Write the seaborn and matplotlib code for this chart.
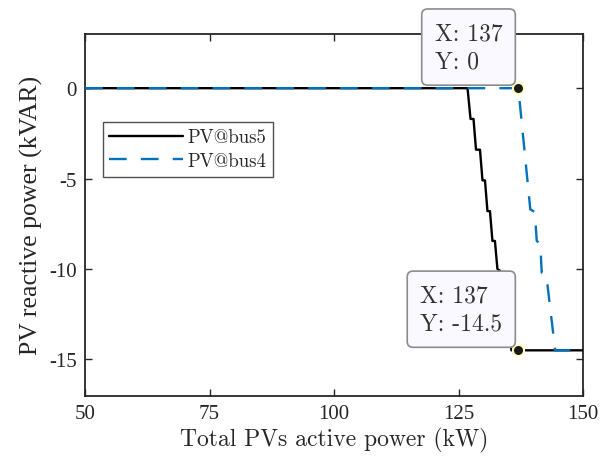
import matplotlib
matplotlib.use("Agg")
import matplotlib.pyplot as plt
from matplotlib.lines import Line2D
import seaborn as sns
import pandas as pd

# PV reactive power response vs total PV active power
bus5_p = [50, 126.8, 127.4, 128.0, 128.5, 129.3, 129.8, 130.3, 130.8, 131.3,
          131.8, 132.3, 132.8, 133.3, 133.8, 134.3, 134.8, 135.3, 135.6, 150]
bus5_q = [0, 0, -1.7, -1.7, -3.4, -3.4, -5.1, -5.1, -6.8, -6.8,
          -8.45, -8.45, -10.0, -10.1, -11.8, -11.8, -13.5, -13.5, -14.5, -14.5]

bus4_p = [50, 137, 139.4, 140.3, 140.7, 141.4, 141.7, 142.6, 144.4, 150]
bus4_q = [0, 0, -6.7, -6.85, -8.45, -8.6, -10.2, -10.3, -14.5, -14.5]

series_names = ["PV@bus5", "PV@bus4"]
tip_points = [(137, 0), (137, -14.5)]

x_ticks = [50, 75, 100, 125, 150]
y_ticks = [-15, -10, -5, 0]

sns.set_theme(style="white")
plt.rcParams["axes.unicode_minus"] = False

CM = "cmr10"
TIMES = "Liberation Serif"
TXT = "#262626"
BLUE = "#0072BD"
LW = 1.7
DASH = (7.5, 6)

fig = plt.figure(figsize=(6.13, 4.6), dpi=100)
ax = fig.add_axes([0.1387, 0.138, 0.8125, 0.786])

df5 = pd.DataFrame({"p": bus5_p, "q": bus5_q})
df4 = pd.DataFrame({"p": bus4_p, "q": bus4_q})

sns.lineplot(data=df5, x="p", y="q", sort=False, estimator=None,
             color="black", linewidth=LW, ax=ax, zorder=3)
sns.lineplot(data=df4, x="p", y="q", sort=False, estimator=None,
             color=BLUE, linewidth=LW, ax=ax, zorder=4)
ax.lines[-1].set_dashes(DASH)

ax.set_xlim(50, 150)
ax.set_ylim(-17, 3)
ax.set_xticks(x_ticks)
ax.set_yticks(y_ticks)
ax.set_xticklabels([str(v) for v in x_ticks], fontfamily=TIMES, fontsize=15, color=TXT)
ax.set_yticklabels([str(v) for v in y_ticks], fontfamily=TIMES, fontsize=15, color=TXT)
ax.tick_params(direction="in", length=5, width=1.0, color=TXT,
               top=True, right=True, bottom=True, left=True, pad=6)

for s in ax.spines.values():
    s.set_visible(True)
    s.set_color(TXT)
    s.set_linewidth(1.3)

ax.set_xlabel("Total PVs active power (kW)", fontfamily=CM, fontsize=17, color=TXT, labelpad=3)
ax.set_ylabel("PV reactive power (kVAR)", fontfamily=TIMES, fontsize=18.5, color=TXT, labelpad=4)

handles = [Line2D([], [], color="black", linewidth=LW),
           Line2D([], [], color=BLUE, linewidth=LW, dashes=DASH)]
leg = ax.legend(handles, series_names, loc="upper left",
                bbox_to_anchor=(0.0355, 0.7575), prop={"family": CM, "size": 13.5},
                frameon=True, fancybox=False, handlelength=3.9, handletextpad=0.25,
                borderpad=0.36, labelspacing=0.3, borderaxespad=0)
leg.get_frame().set_edgecolor(TXT)
leg.get_frame().set_linewidth(1.0)
for t in leg.get_texts():
    t.set_color(TXT)

# data tips
for (px, py) in tip_points:
    ax.plot([px], [py], marker="o", markersize=8, color="#1a1a1a",
            markeredgecolor="#ffffc4", markeredgewidth=1.5, zorder=6,
            clip_on=False)
    label = f"X: {px:g}\nY: {py:g}"
    ax.annotate(label, xy=(px, py), xytext=(-16, 16), textcoords="offset pixels",
                ha="right", va="bottom", multialignment="left",
                fontfamily=CM, fontsize=17, color="#333333",
                linespacing=1.35, zorder=7, annotation_clip=False,
                bbox=dict(boxstyle="round,pad=0.55,rounding_size=0.25",
                          facecolor="#f9f9ff", edgecolor="#8c8c8c", linewidth=1.2))

fig.savefig("out.png", dpi=100)
